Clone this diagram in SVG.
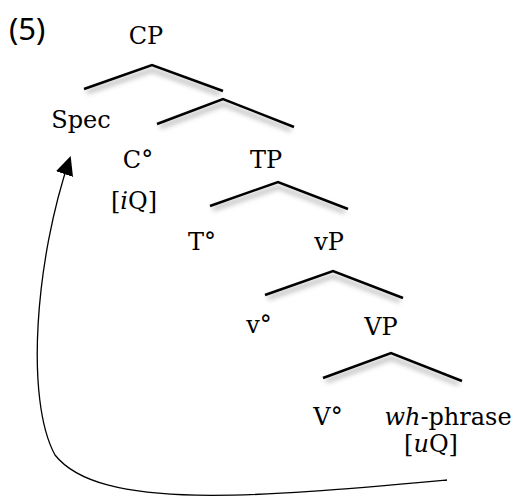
<svg xmlns="http://www.w3.org/2000/svg" width="518" height="502" viewBox="0 0 518 502">
<style>
.t{font-family:"DejaVu Serif","Liberation Serif",serif;font-size:24px;fill:#000;text-anchor:middle}
.n{font-family:"Noto Sans","Open Sans",sans-serif;font-size:31px;fill:#000}
.br{fill:none;stroke:#000;stroke-width:2.5;stroke-linejoin:miter}
.sh{fill:none;stroke:#bbb;stroke-width:4;filter:url(#blur)}
.arc{fill:none;stroke:#000;stroke-width:1.3}
</style>
<defs>
<filter id="blur" x="-20%" y="-50%" width="140%" height="200%"><feGaussianBlur stdDeviation="2.5"/></filter>
<marker id="ah" markerWidth="20" markerHeight="20" refX="17" refY="9" orient="auto" markerUnits="userSpaceOnUse" viewBox="0 0 20 18">
<path d="M0,0 L19,9 L0,18 Z" fill="#000"/>
</marker>
</defs>
<text class="n" x="9" y="40">(5)</text>
<g id="connectors">
<g id="b-cp"><polyline class="sh" points="87,92 152,70 220,94"/><polyline class="br" points="84,89 152,65 223,91"/></g>
<g id="b-cbar"><polyline class="sh" points="160,127 223,104 291,130"/><polyline class="br" points="157,124 223,99 294,127"/></g>
<g id="b-tp"><polyline class="sh" points="213,209 278,187 345,212"/><polyline class="br" points="210,206 278,182 348,209"/></g>
<g id="b-vp"><polyline class="sh" points="268,298 333,276 400,301"/><polyline class="br" points="265,295 333,271 403,298"/></g>
<g id="b-VP"><polyline class="sh" points="326,381 391,358 459,384"/><polyline class="br" points="323,378 391,353 462,381"/></g>
<path id="move" class="arc" d="M447,480 C 260,497 100,512 55,455 C 25,400 35,260 70,158" marker-end="url(#ah)"/>
</g>
<g id="n-CP"><text class="t" x="146" y="44">CP</text></g>
<g id="n-Spec"><text class="t" x="81" y="128">Spec</text></g>
<g id="n-C"><text class="t" x="138" y="168">C°</text><text class="t" x="134" y="209">[<tspan font-style="italic">i</tspan>Q]</text></g>
<g id="n-TP"><text class="t" x="266" y="168">TP</text></g>
<g id="n-T"><text class="t" x="202" y="250">T°</text></g>
<g id="n-vP"><text class="t" x="329" y="250">vP</text></g>
<g id="n-v"><text class="t" x="259" y="333">v°</text></g>
<g id="n-VP"><text class="t" x="381" y="335">VP</text></g>
<g id="n-V"><text class="t" x="328" y="425">V°</text></g>
<g id="n-wh"><text class="t" x="448" y="425"><tspan font-style="italic">wh</tspan>-phrase</text><text class="t" x="431" y="452">[<tspan font-style="italic">u</tspan>Q]</text></g>
</svg>
